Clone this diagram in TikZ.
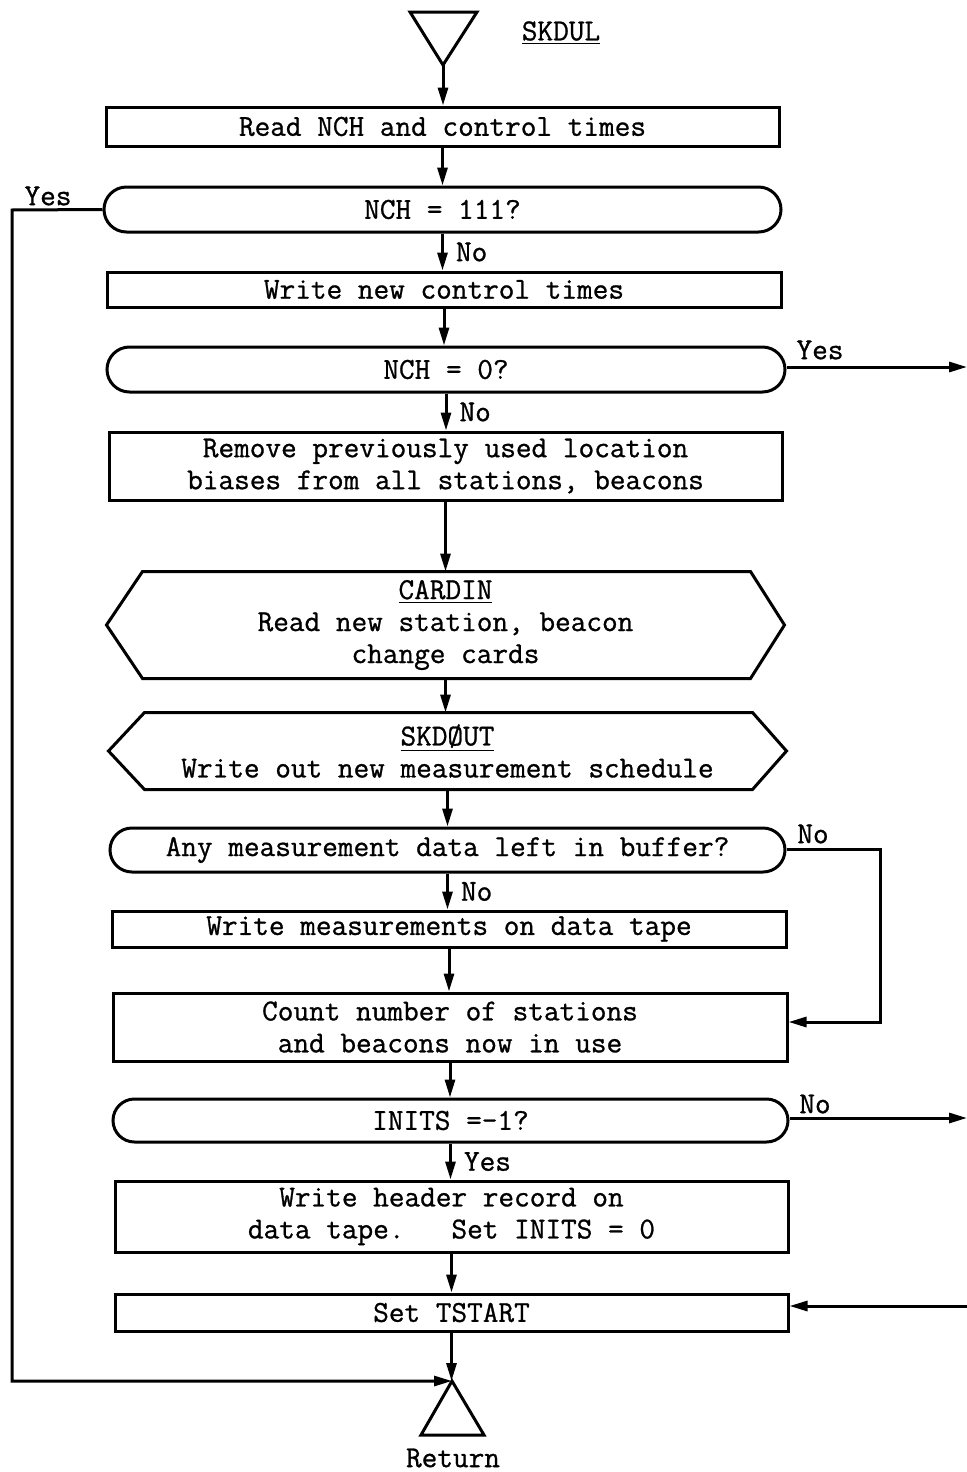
\documentclass[tikz,border=0pt]{standalone}
\usepackage{fontspec}
\newfontfamily\typew{Latin Modern Mono}[FakeBold=0.9]
\usetikzlibrary{arrows.meta,shapes.misc}
\begin{document}
\begin{tikzpicture}[x=0.5pt,y=-0.5pt,
  font=\typew\fontsize{15.2}{16}\selectfont,
  line width=1.5pt,
  box/.style={draw,rectangle,inner sep=0pt,align=center},
  dec/.style={draw,rounded rectangle,inner sep=0pt,align=center},
  hexa/.style={rectangle,inner sep=0pt,align=center},
  arr/.style={-{Triangle[length=9pt,width=5pt]}},
  lbl/.style={inner sep=0pt}]
\useasboundingbox (0,0) rectangle (967,1472);

% start triangle
\draw (410,12) -- (477,12) -- (443,65) -- cycle;
\coordinate (start) at (443,65);
\node[lbl] (title) at (561,33) {\underline{SKDUL}};

\node[box,minimum width=336.5pt,minimum height=19.5pt] (read) at (442.5,126.5) {Read NCH and control times};
\node[dec,minimum width=338.5pt,minimum height=22.5pt] (d1) at (442.5,209.5) {NCH = 111?};
\node[box,minimum width=337pt,minimum height=17.5pt] (write1) at (444,289.5) {Write new control times};
\node[dec,minimum width=339pt,minimum height=22.5pt] (d2) at (446,369.5) {NCH = 0?};
\node[box,minimum width=336.5pt,minimum height=34pt] (remove) at (445.5,466) {Remove previously used location\\biases from all stations, beacons};
\node[hexa,minimum width=337.5pt,minimum height=52pt] (cardin) at (445.5,625) {\underline{CARDIN}\\Read new station, beacon\\change cards};
\node[hexa,minimum width=337.5pt,minimum height=37pt] (skdout) at (447.5,751) {\underline{SKDØUT}\\Write out new measurement schedule};
\node[dec,minimum width=337.5pt,minimum height=22pt] (d3) at (447.5,850) {Any measurement data left in buffer?};
\node[box,minimum width=337pt,minimum height=18pt] (write2) at (449,929) {Write measurements on data tape};
\node[box,minimum width=337pt,minimum height=34pt] (count) at (450,1027) {Count number of stations\\and beacons now in use};
\node[dec,minimum width=337.5pt,minimum height=21.5pt] (d4) at (450.5,1120.5) {INITS =-1?};
\node[box,minimum width=336.5pt,minimum height=35.5pt] (header) at (451.5,1216.5) {Write header record on\\data tape.~~~Set INITS = 0};
\node[box,minimum width=336.5pt,minimum height=18.5pt] (tstart) at (451.5,1312.5) {Set TSTART};

% hexagon outlines
\draw ([xshift=18pt]cardin.north west) -- ([xshift=-17pt]cardin.north east) -- (cardin.east)
  -- ([xshift=-17pt]cardin.south east) -- ([xshift=18pt]cardin.south west) -- (cardin.west) -- cycle;
\draw ([xshift=18pt]skdout.north west) -- ([xshift=-17pt]skdout.north east) -- (skdout.east)
  -- ([xshift=-17pt]skdout.south east) -- ([xshift=18pt]skdout.south west) -- (skdout.west) -- cycle;

% return triangle
\coordinate (ret) at (452,1381);
\draw (ret) -- (484,1435) -- (421,1435) -- cycle;
\node[lbl] (retlbl) at (453,1458) {Return};

% side coordinates
\coordinate (yesL) at (12,210);
\coordinate (out1) at (967,367);
\coordinate (loopA) at (880,849);
\coordinate (loopB) at (880,1022);
\coordinate (out2) at (967,1118);
\coordinate (in2) at (967,1306);

% main flow
\draw[arr] (start) -- (start |- read.north);
\draw[arr] (read.south) -- (read.south |- d1.north);
\draw[arr] (d1.south) -- node[lbl,right=6pt] {No} (d1.south |- write1.north);
\draw[arr] (write1.south) -- (write1.south |- d2.north);
\draw[arr] (d2.south) -- node[lbl,right=6pt] {No} (d2.south |- remove.north);
\draw[arr] (remove.south) -- (remove.south |- cardin.north);
\draw[arr] (cardin.south) -- (cardin.south |- skdout.north);
\draw[arr] (skdout.south) -- (skdout.south |- d3.north);
\draw[arr] (d3.south) -- node[lbl,right=6pt] {No} (d3.south |- write2.north);
\draw[arr] (write2.south) -- (write2.south |- count.north);
\draw[arr] (count.south) -- (count.south |- d4.north);
\draw[arr] (d4.south) -- node[lbl,right=6pt] {Yes} (d4.south |- header.north);
\draw[arr] (header.south) -- (header.south |- tstart.north);
\draw[arr] (tstart.south) -- (tstart.south |- ret);

% branches
\draw[arr] (d1.west) -- (yesL) |- (ret);
\node[lbl] (yes1) at (48,196) {Yes};
\draw[arr] (d2.east |- out1) -- (out1);
\node[lbl] (yes2) at (820,350) {Yes};
\draw[arr] (d3.east |- loopA) -- (loopA) -- (loopB) -- (count.east |- loopB);
\node[lbl] (no3) at (813,834) {No};
\draw[arr] (d4.east |- out2) -- (out2);
\node[lbl] (no4) at (815,1104) {No};
\draw[arr] (in2) -- (tstart.east |- in2);
\end{tikzpicture}
\end{document}
